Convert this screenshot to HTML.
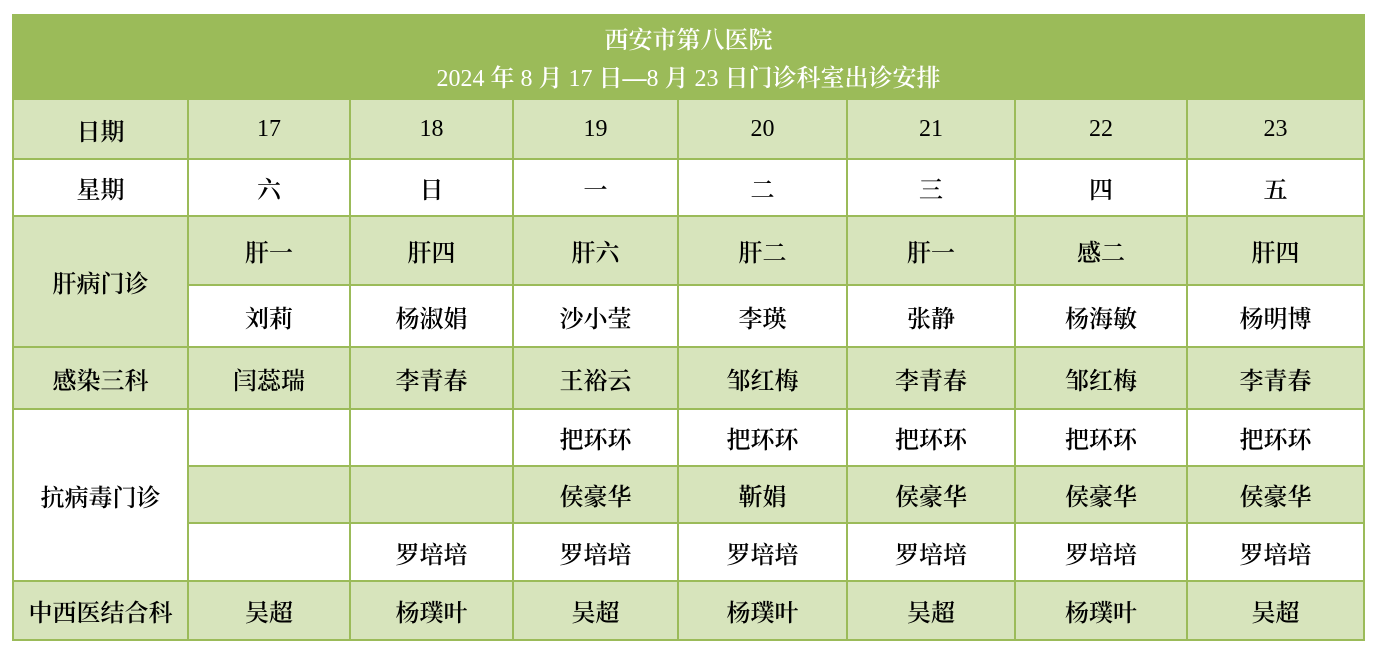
<!DOCTYPE html>
<html><head><meta charset="utf-8"><style>
html,body{margin:0;padding:0;background:#fff;width:1375px;height:651px;overflow:hidden}
table{position:absolute;left:12px;top:14px;width:1351px;border-collapse:collapse;table-layout:fixed;font-family:"Liberation Serif","Noto Serif CJK SC",serif;font-size:24px;font-weight:600;color:#000}
td{border:2px solid #9bbb59;text-align:center;vertical-align:middle;padding:0;box-sizing:border-box;background:#fff}
.g{background:#d7e4bc}
.t{background:#9bbb59;color:#fff;font-size:24px;line-height:38px;border-color:#9bbb59;padding-top:5px}
.n{font-weight:400}
</style></head><body>
<table>
<colgroup><col style="width:175px"><col style="width:162px"><col style="width:163px"><col style="width:165px"><col style="width:169px"><col style="width:168px"><col style="width:172px"><col style="width:177px"></colgroup>
<tr style="height:84px"><td class="t" colspan="8">西安市第八医院<br><span class="n">2024</span> 年 <span class="n">8</span> 月 <span class="n">17</span> 日—<span class="n">8</span> 月 <span class="n">23</span> 日门诊科室出诊安排</td></tr>
<tr style="height:60px" class="r"><td class="g">日期</td><td class="g n">17</td><td class="g n">18</td><td class="g n">19</td><td class="g n">20</td><td class="g n">21</td><td class="g n">22</td><td class="g n">23</td></tr>
<tr style="height:57px"><td>星期</td><td>六</td><td>日</td><td>一</td><td>二</td><td>三</td><td>四</td><td>五</td></tr>
<tr style="height:69px"><td class="g" rowspan="2">肝病门诊</td><td class="g">肝一</td><td class="g">肝四</td><td class="g">肝六</td><td class="g">肝二</td><td class="g">肝一</td><td class="g">感二</td><td class="g">肝四</td></tr>
<tr style="height:62px"><td>刘莉</td><td>杨淑娟</td><td>沙小莹</td><td>李瑛</td><td>张静</td><td>杨海敏</td><td>杨明博</td></tr>
<tr style="height:62px"><td class="g">感染三科</td><td class="g">闫蕊瑞</td><td class="g">李青春</td><td class="g">王裕云</td><td class="g">邹红梅</td><td class="g">李青春</td><td class="g">邹红梅</td><td class="g">李青春</td></tr>
<tr style="height:57px"><td rowspan="3">抗病毒门诊</td><td></td><td></td><td>把环环</td><td>把环环</td><td>把环环</td><td>把环环</td><td>把环环</td></tr>
<tr style="height:57px"><td class="g"></td><td class="g"></td><td class="g">侯豪华</td><td class="g">靳娟</td><td class="g">侯豪华</td><td class="g">侯豪华</td><td class="g">侯豪华</td></tr>
<tr style="height:58px"><td></td><td>罗培培</td><td>罗培培</td><td>罗培培</td><td>罗培培</td><td>罗培培</td><td>罗培培</td></tr>
<tr style="height:59px"><td class="g">中西医结合科</td><td class="g">吴超</td><td class="g">杨璞叶</td><td class="g">吴超</td><td class="g">杨璞叶</td><td class="g">吴超</td><td class="g">杨璞叶</td><td class="g">吴超</td></tr>
</table>
</body></html>
